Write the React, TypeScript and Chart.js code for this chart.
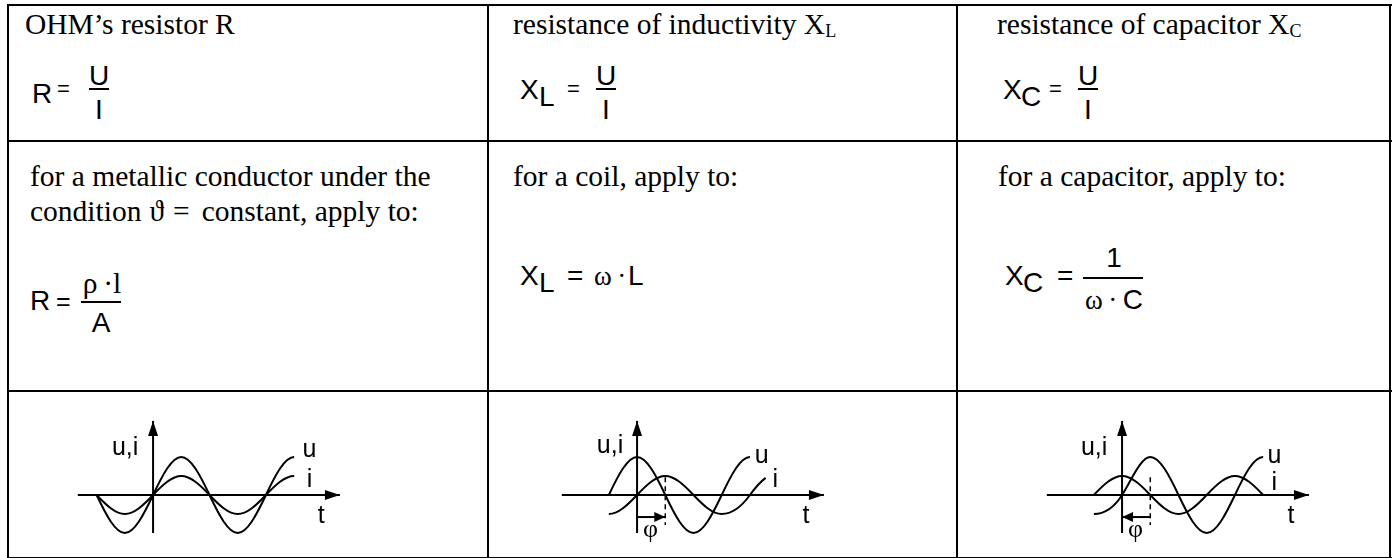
import React, { useEffect, useRef } from "react";
import { Chart, registerables } from "chart.js";
Chart.register(...registerables);

// ---------- data (phase in degrees, amplitude in relative units) ----------
const RES_U_T = [-180, -90, 0, 90, 180, 270, 360, 450];
const RES_U_V = [0, -1, 0, 1, 0, -1, 0, 1];
const RES_I_T = [-180, -90, 0, 90, 180, 270, 360, 450];
const RES_I_V = [0, -0.5, 0, 0.5, 0, -0.5, 0, 0.5];

const IND_U_T = [-90, 0, 90, 180, 270, 360];
const IND_U_V = [0, 1, 0, -1, 0, 1];
const IND_I_T = [-90, 0, 90, 180, 270, 360, 410];
const IND_I_V = [-0.5, 0, 0.5, 0, -0.5, 0, 0.45];

const CAP_U_T = [-90, 0, 90, 180, 270, 360, 450];
const CAP_U_V = [-0.5, 0, 1, 0, -1, 0, 1];
const CAP_I_T = [-90, 0, 90, 180, 270, 360, 450];
const CAP_I_V = [0, 0.5, 0, -0.5, 0, 0.5, 0];

const T_AXIS = [-240, 596];
const UI_AXIS = [-1, 1.95];
const PHI_IND = [0, 90];
const PHI_CAP = [90, 0];
const PHI_LEVEL = -0.58;
const DASH_T = 90;
const DASH_V = [0.47, -0.79];

const HEADINGS = ["OHM\u2019s resistor R", "resistance of inductivity X", "resistance of capacitor X"];
const HEAD_SUBS = ["", "L", "C"];
const COND_1A = "for a metallic conductor under the";
const COND_1B = ["condition", "\u03d1", "=", "constant, apply to:"];
const COND_2 = "for a coil, apply to:";
const COND_3 = "for a capacitor, apply to:";

// ---------- helpers ----------
const SERIF = '"Liberation Serif", "Times New Roman", serif';
const SANS = '"Liberation Sans", Arial, sans-serif';
const TS = 29.5; // text size
const FS = 28; // formula size

const PXD = 28.2 / 90; // px per degree
const PXU = 38; // px per amplitude unit
const X_MIN = -300, X_MAX = 660, Y_MIN = -1.5, Y_MAX = 2.5;

function Txt(props: { x: number; y: number; size: number; fam?: string; center?: boolean; children: any }) {
  const fam = props.fam || SERIF;
  const k = fam === SANS ? 0.8465 : 0.8375;
  return (
    <div
      style={{
        position: "absolute",
        left: props.x,
        top: props.y - k * props.size,
        fontSize: props.size,
        lineHeight: 1,
        fontFamily: fam,
        whiteSpace: "nowrap",
        color: "#000",
        transform: props.center ? "translateX(-50%)" : undefined,
      }}
    >
      {props.children}
    </div>
  );
}

function HLine({ x, y, w, h = 2 }: any) {
  return <div style={{ position: "absolute", left: x, top: y, width: w, height: h, background: "#000" }} />;
}
function VLine({ x, y, h, w = 2 }: any) {
  return <div style={{ position: "absolute", left: x, top: y, width: w, height: h, background: "#000" }} />;
}

const pts = (t: number[], v: number[]) => t.map((x, i) => ({ x, y: v[i] }));

// arrow heads at the end of flagged datasets
const arrowPlugin = {
  id: "arrowHeads",
  afterDatasetsDraw(chart: any) {
    const ctx = chart.ctx;
    chart.data.datasets.forEach((ds: any, i: number) => {
      if (!ds.arrow) return;
      const meta = chart.getDatasetMeta(i);
      const n = meta.data.length;
      const a = meta.data[n - 2], b = meta.data[n - 1];
      const ang = Math.atan2(b.y - a.y, b.x - a.x);
      const L = ds.arrow.len, W = ds.arrow.half;
      ctx.save();
      ctx.translate(b.x, b.y);
      ctx.rotate(ang);
      ctx.beginPath();
      ctx.moveTo(0, 0);
      ctx.lineTo(-L, -W);
      ctx.lineTo(-L, W);
      ctx.closePath();
      ctx.fillStyle = "#000";
      ctx.fill();
      ctx.restore();
    });
  },
};

// smooth wave shape: horizontal tangent at extrema, steeper tangent at crossings
const wavePlugin = {
  id: "waveShape",
  beforeDatasetDraw(chart: any, args: any) {
    const ds = chart.data.datasets[args.index];
    if (!ds.wave) return;
    const meta = args.meta;
    const p = meta.data;
    const n = p.length;
    meta.dataset.updateControlPoints(chart.chartArea, meta.iScale.axis);
    const sec: number[] = [];
    for (let k = 0; k < n - 1; k++) sec.push((p[k + 1].y - p[k].y) / (p[k + 1].x - p[k].x));
    const f = Math.PI / 2;
    const m = p.map((_: any, k: number) => {
      if (k === 0) return ds.wave.flatStart ? 0 : sec[0] * f;
      if (k === n - 1) return ds.wave.flatEnd ? 0 : sec[n - 2] * (ds.wave.endFactor ?? f);
      const a = sec[k - 1], b = sec[k];
      if (a * b <= 0) return 0;
      return ((a + b) / 2) * f;
    });
    for (let k = 0; k < n; k++) {
      const q = p[k];
      if (k > 0) {
        const dx = (q.x - p[k - 1].x) / 3;
        q.cp1x = q.x - dx;
        q.cp1y = q.y - m[k] * dx;
      }
      if (k < n - 1) {
        const dx = (p[k + 1].x - q.x) / 3;
        q.cp2x = q.x + dx;
        q.cp2y = q.y + m[k] * dx;
      }
    }
  },
};

const labelPlugin = {
  id: "waveText",
  afterDraw(chart: any, _args: any, opts: any) {
    const ctx = chart.ctx;
    const xs = chart.scales.x, ys = chart.scales.y;
    (opts.items || []).forEach((it: any) => {
      ctx.save();
      ctx.font = it.font;
      ctx.fillStyle = "#000";
      ctx.textAlign = it.align || "left";
      ctx.textBaseline = "alphabetic";
      ctx.fillText(it.text, xs.getPixelForValue(it.x), ys.getPixelForValue(it.y));
      ctx.restore();
    });
  },
};

function Wave({ ox, oy, big, small, bigShape, smallShape, phi, labels }: any) {
  const ref = useRef<HTMLCanvasElement>(null);
  const w = Math.round((X_MAX - X_MIN) * PXD);
  const h = Math.round((Y_MAX - Y_MIN) * PXU);
  const left = Math.round(ox + X_MIN * PXD);
  const top = Math.round(oy - Y_MAX * PXU);
  useEffect(() => {
    const curve = (data: any, wave: any) => ({
      data,
      wave,
      borderColor: "#000",
      borderWidth: 2,
      pointRadius: 0,
      cubicInterpolationMode: "monotone",
      fill: false,
    });
    const straight = (data: any, extra: any = {}) => ({
      data,
      borderColor: "#000",
      borderWidth: 2,
      pointRadius: 0,
      tension: 0,
      fill: false,
      ...extra,
    });
    const datasets: any[] = [
      straight(pts(T_AXIS, [0, 0]), { arrow: { len: 15, half: 5 } }),
      straight(pts([0, 0], UI_AXIS), { arrow: { len: 15, half: 5 } }),
      curve(big, bigShape),
      curve(small, smallShape),
    ];
    if (phi) {
      datasets.push(straight(pts([DASH_T, DASH_T], DASH_V), { borderWidth: 1.5, borderDash: [5, 4] }));
      datasets.push(straight(pts(phi, [PHI_LEVEL, PHI_LEVEL]), { arrow: { len: 11, half: 5 } }));
    }
    const chart = new Chart(ref.current as HTMLCanvasElement, {
      type: "line",
      data: { datasets },
      options: {
        animation: false,
        responsive: false,
        maintainAspectRatio: false,
        events: [],
        layout: { padding: 0 },
        scales: {
          x: { type: "linear", display: false, min: X_MIN, max: X_MAX },
          y: { type: "linear", display: false, min: Y_MIN, max: Y_MAX },
        },
        plugins: {
          legend: { display: false },
          tooltip: { enabled: false },
          waveText: { items: labels },
        } as any,
      } as any,
      plugins: [wavePlugin, arrowPlugin, labelPlugin],
    } as any);
    return () => chart.destroy();
  }, []);
  return <canvas ref={ref} width={w} height={h} style={{ position: "absolute", left, top, width: w, height: h }} />;
}

const LF = '25px "Liberation Sans", Arial, sans-serif';
const PF = '26px "Liberation Serif", "Times New Roman", serif';

export default function App() {
  const sub = (s: string, size = 18) => (
    <span style={{ fontSize: size, position: "relative", top: 3 }}>{s}</span>
  );
  const formulaSub = (x: number, y: number, main: string, s: string, off = 19) => (
    <>
      <Txt x={x} y={y} size={FS} fam={SANS}>{main}</Txt>
      <Txt x={x + off} y={y + 7} size={FS} fam={SANS}>{s}</Txt>
    </>
  );
  const frac = (cx: number, barY: number, w: number, top: any, bottom: any) => (
    <>
      {top}
      <HLine x={cx - w / 2} y={barY} w={w} h={1.5} />
      {bottom}
    </>
  );
  return (
    <div style={{ position: "absolute", left: 0, top: 0, width: 1395, height: 558, background: "#fff", overflow: "hidden" }}>
      {/* grid */}
      <HLine x={7} y={4} w={1385} />
      <HLine x={7} y={140} w={1385} />
      <HLine x={7} y={390} w={1385} />
      <HLine x={7} y={557} w={1385} />
      <VLine x={7} y={4} h={560} />
      <VLine x={487} y={4} h={560} />
      <VLine x={956} y={4} h={560} />
      <VLine x={1389} y={4} h={560} />

      {/* row 1 */}
      <Txt x={25} y={35} size={TS}>{HEADINGS[0]}</Txt>
      <Txt x={513} y={35} size={TS}>{HEADINGS[1]}{sub(HEAD_SUBS[1])}</Txt>
      <Txt x={997} y={35} size={TS}>{HEADINGS[2]}{sub(HEAD_SUBS[2])}</Txt>

      <Txt x={32} y={104} size={FS} fam={SANS}>R</Txt>
      <Txt x={57} y={97} size={22} fam={SANS}>=</Txt>
      {frac(99, 88, 20,
        <Txt x={99} y={86} size={FS} fam={SANS} center>U</Txt>,
        <Txt x={99} y={120} size={FS} fam={SANS} center>I</Txt>)}

      {formulaSub(520, 100, "X", "L")}
      <Txt x={567} y={97} size={22} fam={SANS}>=</Txt>
      {frac(606, 88, 20,
        <Txt x={606} y={86} size={FS} fam={SANS} center>U</Txt>,
        <Txt x={606} y={120} size={FS} fam={SANS} center>I</Txt>)}

      {formulaSub(1003, 100, "X", "C", 18)}
      <Txt x={1049} y={97} size={22} fam={SANS}>=</Txt>
      {frac(1088, 88, 20,
        <Txt x={1088} y={86} size={FS} fam={SANS} center>U</Txt>,
        <Txt x={1088} y={120} size={FS} fam={SANS} center>I</Txt>)}

      {/* row 2 */}
      <Txt x={30} y={187} size={TS}>{COND_1A}</Txt>
      <Txt x={30} y={222} size={TS}>
        {COND_1B[0]}
        <span style={{ marginLeft: 8 }}>{COND_1B[1]}</span>
        <span style={{ marginLeft: 9, marginRight: 12 }}>{COND_1B[2]}</span>
        {COND_1B[3]}
      </Txt>
      <Txt x={30} y={311} size={FS} fam={SANS}>R</Txt>
      <Txt x={56} y={310} size={25} fam={SANS}>=</Txt>
      {frac(101, 301, 40,
        <Txt x={102} y={294} size={TS} center>{"\u03c1\u2009\u00b7l"}</Txt>,
        <Txt x={101} y={333} size={FS} fam={SANS} center>A</Txt>)}

      <Txt x={513} y={187} size={TS}>{COND_2}</Txt>
      {formulaSub(520, 286, "X", "L")}
      <Txt x={567} y={286} size={FS} fam={SANS}>=</Txt>
      <Txt x={594} y={286} size={27}>{"\u03c9\u2009\u00b7"}</Txt>
      <Txt x={628} y={286} size={FS} fam={SANS}>L</Txt>

      <Txt x={998} y={187} size={TS}>{COND_3}</Txt>
      {formulaSub(1005, 286, "X", "C", 18)}
      <Txt x={1057} y={286} size={FS} fam={SANS}>=</Txt>
      {frac(1113, 277, 60,
        <Txt x={1114} y={268} size={FS} fam={SANS} center>1</Txt>,
        <Txt x={1114} y={310} size={FS} fam={SANS} center>
          <span style={{ fontFamily: SERIF, fontSize: 27 }}>{"\u03c9\u2009\u00b7\u2009"}</span>C
        </Txt>)}

      {/* row 3: waveforms */}
      <Wave
        ox={153}
        oy={495}
        big={pts(RES_U_T, RES_U_V)}
        small={pts(RES_I_T, RES_I_V)}
        bigShape={{ flatEnd: true }}
        smallShape={{ flatEnd: true }}
        labels={[
          { text: "u,i", x: -47, y: 1.05, font: LF, align: "right" },
          { text: "u", x: 477, y: 1.0, font: LF },
          { text: "i", x: 490, y: 0.21, font: LF },
          { text: "t", x: 525, y: -0.74, font: LF },
        ]}
      />
      <Wave
        ox={637}
        oy={495}
        big={pts(IND_U_T, IND_U_V)}
        small={pts(IND_I_T, IND_I_V)}
        bigShape={{ flatEnd: true }}
        smallShape={{ flatStart: true, endFactor: 0.7 }}
        phi={PHI_IND}
        labels={[
          { text: "u,i", x: -44, y: 1.1, font: LF, align: "right" },
          { text: "u", x: 375, y: 0.84, font: LF },
          { text: "i", x: 432, y: 0.21, font: LF },
          { text: "t", x: 528, y: -0.74, font: LF },
          { text: "\u03c6", x: 19, y: -1.1, font: PF },
        ]}
      />
      <Wave
        ox={1122}
        oy={495}
        big={pts(CAP_U_T, CAP_U_V)}
        small={pts(CAP_I_T, CAP_I_V)}
        bigShape={{ flatStart: true, flatEnd: true }}
        smallShape={{}}
        phi={PHI_CAP}
        labels={[
          { text: "u,i", x: -47, y: 1.05, font: LF, align: "right" },
          { text: "u", x: 464, y: 0.84, font: LF },
          { text: "i", x: 477, y: 0.13, font: LF },
          { text: "t", x: 528, y: -0.74, font: LF },
          { text: "\u03c6", x: 19, y: -1.1, font: PF },
        ]}
      />
    </div>
  );
}
